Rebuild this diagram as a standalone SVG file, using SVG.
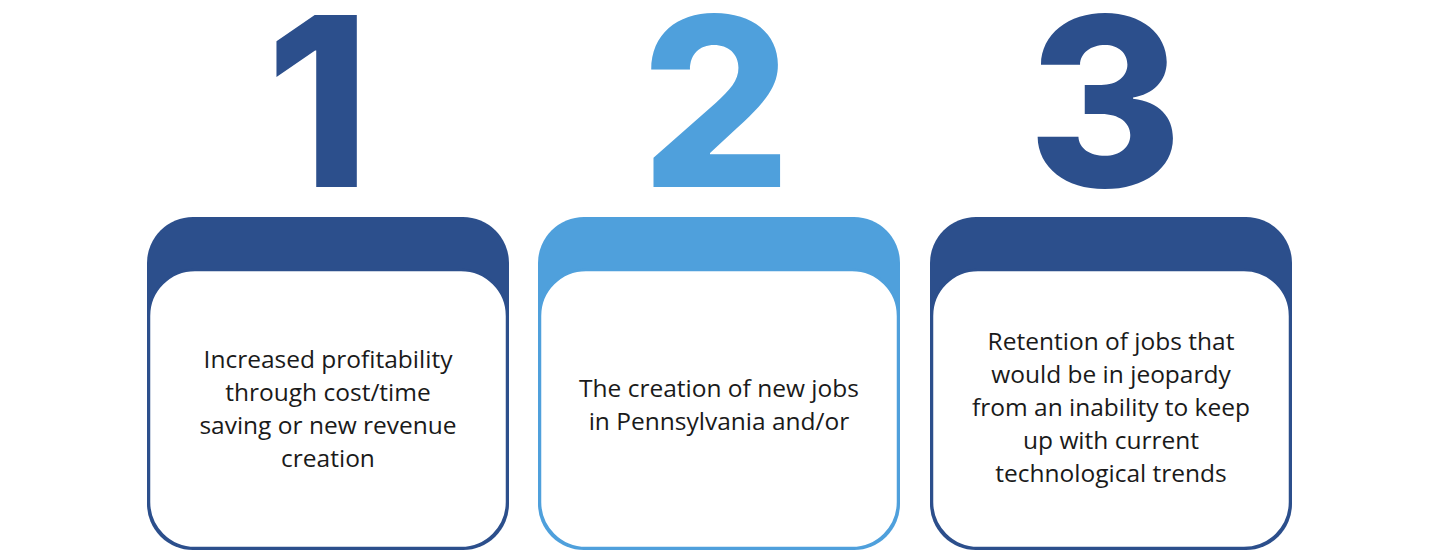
<svg xmlns="http://www.w3.org/2000/svg" width="1440" height="552" viewBox="0 0 1440 552">
<style>
.num{font-family:Inter,"Open Sans",sans-serif;font-weight:800;font-size:236px;text-anchor:middle}
.t{font-family:"Open Sans",sans-serif;font-size:24.5px;fill:#1a1a1a;text-anchor:middle}
.dark{fill:#2c4f8c}.light{fill:#4fa0dc}
.inner{fill:#fff;stroke-width:2.5}
</style>
<rect width="1440" height="552" fill="#fff"/>
<g id="node1">
<text class="num dark" x="318" y="187">1</text>
<rect class="dark" x="147" y="217" width="362" height="333" rx="46"/>
<rect class="inner" x="149" y="270" width="358" height="278" rx="46" stroke="#2c4f8c"/>
<text class="t" x="328" y="368">Increased profitability</text>
<text class="t" x="328" y="401">through cost/time</text>
<text class="t" x="328" y="434">saving or new revenue</text>
<text class="t" x="328" y="467">creation</text>
</g>
<g id="node2">
<text class="num light" x="716" y="187">2</text>
<rect class="light" x="538" y="217" width="362" height="333" rx="46"/>
<rect class="inner" x="540" y="270" width="358" height="278" rx="46" stroke="#4fa0dc"/>
<text class="t" x="719" y="397">The creation of new jobs</text>
<text class="t" x="719" y="430">in Pennsylvania and/or</text>
</g>
<g id="node3">
<text class="num dark" x="1105" y="187">3</text>
<rect class="dark" x="930" y="217" width="362" height="333" rx="46"/>
<rect class="inner" x="932" y="270" width="358" height="278" rx="46" stroke="#2c4f8c"/>
<text class="t" x="1111" y="350">Retention of jobs that</text>
<text class="t" x="1111" y="383">would be in jeopardy</text>
<text class="t" x="1111" y="416">from an inability to keep</text>
<text class="t" x="1111" y="449">up with current</text>
<text class="t" x="1111" y="482">technological trends</text>
</g>
<g id="connectors"/>
</svg>
